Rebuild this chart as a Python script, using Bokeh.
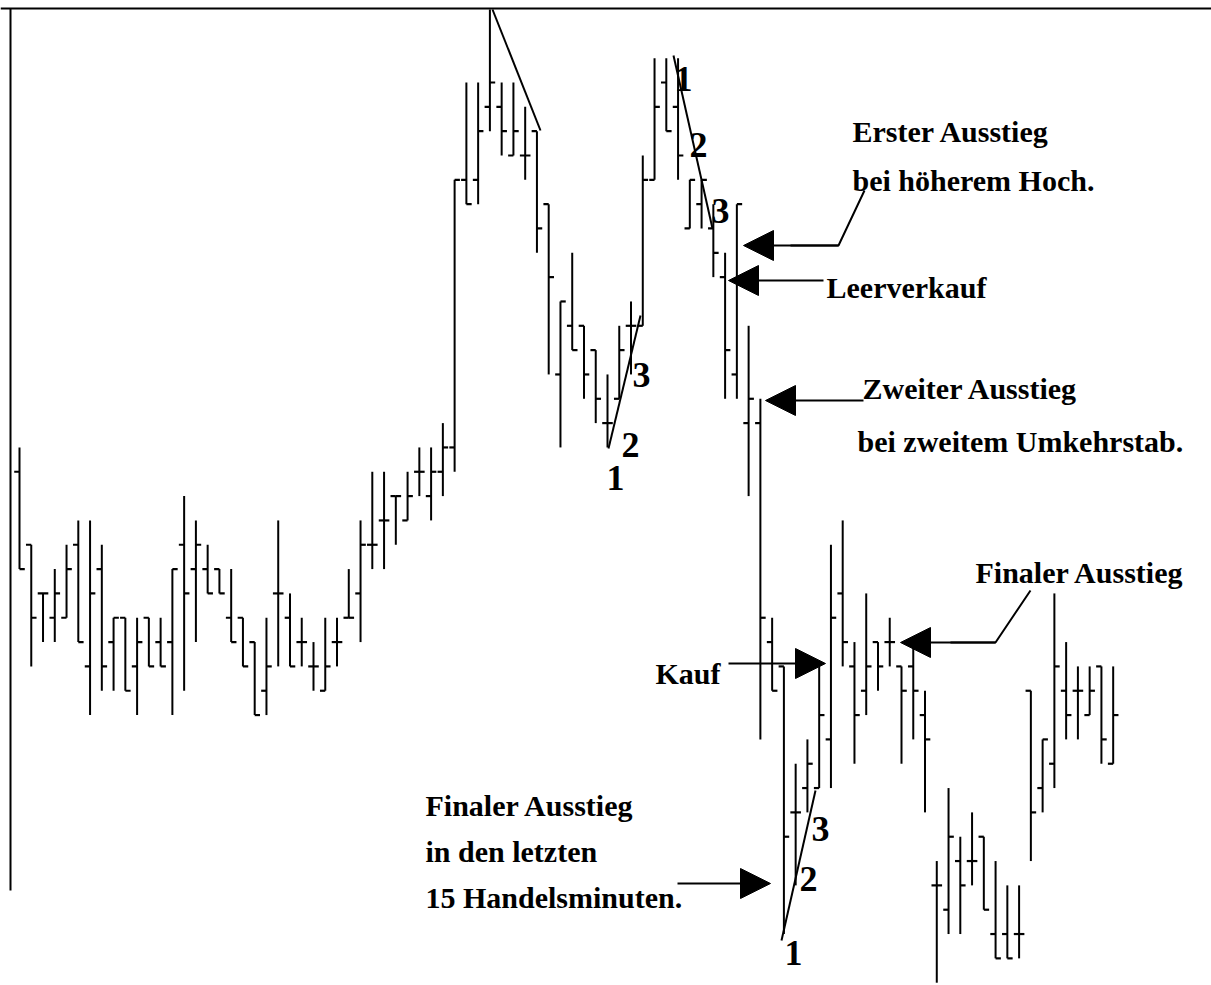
from bokeh.plotting import figure
from bokeh.models import Range1d, Span, Label, Arrow, NormalHead, ColumnDataSource
from bokeh.embed import file_html
from bokeh.resources import INLINE

# ---- data: OHLC bars (price in ticks) ----
opens = [21, 18, 16, 15, 15, 18, 13, 17, 14, 15, 13, 15, 14, 14, 18, 17, 17, 17, 15, 15,
         14, 12, 16, 15, 14, 13, 12, 14, 15, 16, 18, 19, 20, 19, 21, 20, 21, 22, 33, 33,
         36, 36, 34, 34, 35, 32, 25, 27, 27, 26, 23, 24, 27, 27, 33, 37, 36, 31, 32, 31,
         29, 25, 23, 23, 14, 13, 7, 8, 8, 10, 16, 13, 12, 14, 14, 13, 13, 11, 4, 3,
         5, 5, 6, 2, 2, 2, 12, 8, 9, 12, 12, 11, 13, 9]
highs = [22, 18, 16, 17, 18, 19, 19, 18, 15, 15, 15, 15, 15, 17, 20, 19, 18, 17, 17, 15,
         14, 15, 19, 16, 15, 14, 15, 15, 17, 19, 21, 21, 20, 21, 22, 22, 23, 33, 37, 37,
         40, 37, 37, 36, 35, 32, 28, 30, 27, 26, 25, 27, 28, 34, 38, 38, 38, 33, 33, 32,
         30, 32, 27, 24, 15, 13, 9, 10, 13, 18, 19, 14, 16, 14, 15, 13, 14, 12, 5, 8,
         6, 7, 6, 5, 4, 4, 12, 10, 16, 14, 13, 13, 13, 13]
lows = [17, 13, 14, 14, 15, 14, 11, 12, 12, 12, 11, 13, 13, 11, 12, 14, 16, 16, 14, 13,
        11, 11, 13, 13, 13, 12, 12, 13, 15, 14, 17, 17, 18, 19, 20, 19, 20, 21, 32, 32,
        35, 34, 34, 33, 30, 25, 22, 26, 24, 23, 22, 24, 25, 27, 33, 35, 33, 31, 31, 29,
        24, 24, 20, 10, 12, 2, 4, 7, 8, 8, 13, 9, 11, 12, 13, 9, 10, 7, 0, 2,
        2, 4, 3, 1, 1, 1, 5, 7, 8, 10, 10, 11, 9, 9]
closes = [17, 15, 16, 16, 17, 14, 16, 13, 15, 12, 14, 13, 13, 17, 16, 18, 16, 16, 14, 13,
          11, 13, 16, 13, 14, 13, 13, 14, 15, 18, 18, 19, 20, 20, 21, 21, 22, 33, 32, 35,
          37, 35, 35, 34, 31, 29, 28, 26, 25, 24, 23, 26, 27, 33, 36, 35, 34, 33, 33, 30,
          26, 32, 24, 15, 12, 6, 7, 9, 11, 15, 14, 11, 13, 13, 14, 12, 12, 10, 4, 6,
          4, 5, 3, 1, 1, 2, 7, 10, 13, 11, 12, 12, 10, 11]

texts = ["Erster Ausstieg", "bei höherem Hoch.", "Leerverkauf", "Zweiter Ausstieg",
         "bei zweitem Umkehrstab.", "Finaler Ausstieg", "Kauf", "Finaler Ausstieg",
         "in den letzten", "15 Handelsminuten."]

# ---- layout helpers (image pixels -> data) ----
W, H = 1211, 985
PX_PER_BAR = 11.76
PX_PER_PT = 24.33
X0 = -19 / PX_PER_BAR
X1 = X0 + W / PX_PER_BAR
Y1 = 40 + 9 / PX_PER_PT
Y0 = Y1 - H / PX_PER_PT


def fx(px):
    return X0 + px / PX_PER_BAR


def fy(py):
    return Y1 - py / PX_PER_PT


p = figure(width=W, height=H, output_backend="svg", toolbar_location=None,
           x_range=Range1d(X0, X1), y_range=Range1d(Y0, Y1), min_border=0)
p.axis.visible = False
p.grid.visible = False
p.outline_line_color = None
p.background_fill_color = "white"
p.border_fill_color = "white"

idx = list(range(len(opens)))
TICK = 0.45
src = ColumnDataSource(dict(
    x=idx, o=opens, h=highs, l=lows, c=closes,
    xl=[i - TICK for i in idx], xr=[i + TICK for i in idx]))

p.segment(x0="x", y0="l", x1="x", y1="h", source=src, line_color="black", line_width=2)
p.segment(x0="xl", y0="o", x1="x", y1="o", source=src, line_color="black", line_width=2.2)
p.segment(x0="x", y0="c", x1="xr", y1="c", source=src, line_color="black", line_width=2.2)


def poly(pts, w=2):
    p.line([fx(a) for a, b in pts], [fy(b) for a, b in pts], line_color="black", line_width=w)


# frame (top and left)
p.add_layout(Span(location=fy(8), dimension="width", line_color="black", line_width=2))
poly([(10, 8), (10, 890)])

# ---- annotations ----
FONT = "Liberation Serif"


def label(txt, px, py, size="30px", bold=True):
    p.add_layout(Label(x=fx(px), y=fy(py), text=txt, text_font=FONT,
                       text_font_style="bold" if bold else "normal",
                       text_font_size=size, text_baseline="alphabetic",
                       text_align="left", text_color="black"))


label(texts[0], 852, 131)
label(texts[1], 852, 180)
label(texts[2], 826, 287)
label(texts[3], 862, 388)
label(texts[4], 857, 441)
label(texts[5], 975, 572)
label(texts[6], 655, 673)
label(texts[7], 425, 805)
label(texts[8], 425, 851)
label(texts[9], 425, 897)


def arrow(x_from, x_to, py):
    p.add_layout(Arrow(end=NormalHead(size=30, fill_color="black", line_color="black", line_width=1),
                       x_start=fx(x_from), y_start=fy(py), x_end=fx(x_to), y_end=fy(py),
                       line_color="black", line_width=2))


# Erster Ausstieg
poly([(864, 190), (838, 245), (790, 245)])
arrow(838, 743, 245)
# Leerverkauf
arrow(823, 728, 280)
# Zweiter Ausstieg
arrow(863, 765, 400)
# Finaler Ausstieg (right)
poly([(1030, 590), (995, 642), (950, 642)])
arrow(995, 900, 642)
# Kauf
arrow(728, 825, 663)
# Finaler Ausstieg (bottom)
arrow(677, 770, 883)

# count lines
poly([(492, 9), (540, 130)])
poly([(673, 55), (712, 228)])
poly([(608, 448), (640, 315)])
poly([(781, 940), (815, 790)])

# count numbers
for t, px, py in [("1", 674, 78), ("2", 689, 144), ("3", 711, 210),
                  ("1", 606, 477), ("2", 621, 444), ("3", 632, 374),
                  ("1", 784, 952), ("2", 799, 878), ("3", 811, 828)]:
    label(t, px, py, size="36px", bold=True)

open("out.html", "w").write(file_html(p, INLINE))
